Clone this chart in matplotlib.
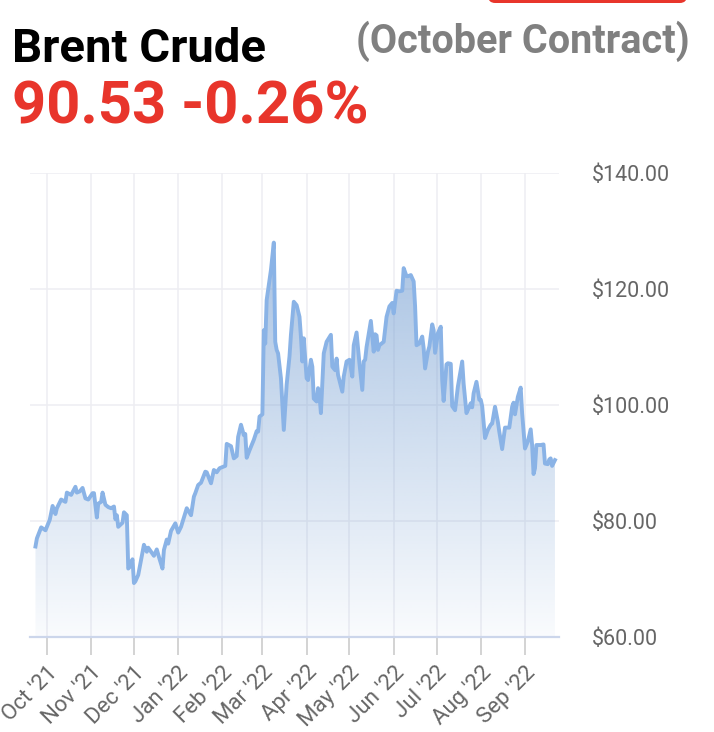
import numpy as np
import pandas as pd
import matplotlib
matplotlib.use("Agg")
import matplotlib.pyplot as plt
import matplotlib.dates as mdates
from matplotlib.patches import PathPatch, FancyBboxPatch

plt.rcParams['font.family'] = ['Roboto', 'DejaVu Sans']

# data (Brent, Oct contract)
dates = [
    "2021-09-23", "2021-09-24", "2021-09-27", "2021-09-30", "2021-10-01", "2021-10-03",
    "2021-10-05", "2021-10-07", "2021-10-08", "2021-10-11", "2021-10-14", "2021-10-15",
    "2021-10-18", "2021-10-21", "2021-10-22", "2021-10-24", "2021-10-26", "2021-10-28",
    "2021-10-30", "2021-11-02", "2021-11-03", "2021-11-05", "2021-11-06", "2021-11-08",
    "2021-11-09", "2021-11-11", "2021-11-13", "2021-11-15", "2021-11-17", "2021-11-18",
    "2021-11-19", "2021-11-20", "2021-11-23", "2021-11-24", "2021-11-26", "2021-11-27",
    "2021-11-28", "2021-11-30", "2021-12-01", "2021-12-02", "2021-12-04", "2021-12-06",
    "2021-12-08", "2021-12-10", "2021-12-11", "2021-12-13", "2021-12-15", "2021-12-17",
    "2021-12-19", "2021-12-21", "2021-12-22", "2021-12-24", "2021-12-25", "2021-12-27",
    "2021-12-30", "2022-01-01", "2022-01-03", "2022-01-07", "2022-01-10", "2022-01-12",
    "2022-01-13", "2022-01-15", "2022-01-17", "2022-01-20", "2022-01-21", "2022-01-24",
    "2022-01-26", "2022-01-28", "2022-01-30", "2022-02-01", "2022-02-03", "2022-02-04",
    "2022-02-07", "2022-02-09", "2022-02-11", "2022-02-12", "2022-02-14", "2022-02-16",
    "2022-02-17", "2022-02-18", "2022-02-20", "2022-02-23", "2022-02-25", "2022-02-26",
    "2022-02-27", "2022-03-01", "2022-03-02", "2022-03-03", "2022-03-04", "2022-03-07",
    "2022-03-09", "2022-03-10", "2022-03-11", "2022-03-12", "2022-03-14", "2022-03-16",
    "2022-03-18", "2022-03-20", "2022-03-21", "2022-03-23", "2022-03-25", "2022-03-27",
    "2022-03-28", "2022-03-29", "2022-03-30", "2022-04-01", "2022-04-02", "2022-04-04",
    "2022-04-05", "2022-04-06", "2022-04-08", "2022-04-09", "2022-04-10", "2022-04-11",
    "2022-04-13", "2022-04-15", "2022-04-18", "2022-04-19", "2022-04-21", "2022-04-22",
    "2022-04-23", "2022-04-26", "2022-04-27", "2022-04-29", "2022-05-01", "2022-05-03",
    "2022-05-04", "2022-05-06", "2022-05-08", "2022-05-10", "2022-05-11", "2022-05-12",
    "2022-05-13", "2022-05-16", "2022-05-18", "2022-05-19", "2022-05-20", "2022-05-21",
    "2022-05-22", "2022-05-24", "2022-05-25", "2022-05-27", "2022-05-29", "2022-05-31",
    "2022-06-01", "2022-06-03", "2022-06-05", "2022-06-07", "2022-06-08", "2022-06-10",
    "2022-06-11", "2022-06-13", "2022-06-15", "2022-06-16", "2022-06-17", "2022-06-19",
    "2022-06-21", "2022-06-22", "2022-06-23", "2022-06-25", "2022-06-26", "2022-06-28",
    "2022-06-29", "2022-06-30", "2022-07-02", "2022-07-04", "2022-07-05", "2022-07-06",
    "2022-07-08", "2022-07-09", "2022-07-11", "2022-07-12", "2022-07-14", "2022-07-16",
    "2022-07-19", "2022-07-20", "2022-07-22", "2022-07-24", "2022-07-25", "2022-07-26",
    "2022-07-27", "2022-07-29", "2022-07-31", "2022-08-01", "2022-08-02", "2022-08-04",
    "2022-08-06", "2022-08-08", "2022-08-09", "2022-08-11", "2022-08-13", "2022-08-14",
    "2022-08-16", "2022-08-18", "2022-08-19", "2022-08-21", "2022-08-23", "2022-08-24",
    "2022-08-25", "2022-08-27", "2022-08-29", "2022-08-30", "2022-09-01", "2022-09-03",
    "2022-09-05", "2022-09-06", "2022-09-07", "2022-09-08", "2022-09-09", "2022-09-12",
    "2022-09-14", "2022-09-15", "2022-09-17", "2022-09-18", "2022-09-19", "2022-09-20",
    "2022-09-22",
]
prices = [
    75.6, 77.0, 78.9, 78.4, 79.0, 80.2,
    82.6, 81.2, 82.2, 83.7, 83.3, 84.9,
    84.5, 85.9, 84.9, 85.1, 85.7, 83.9,
    83.7, 84.8, 84.8, 80.6, 83.0, 83.3,
    84.9, 82.8, 82.4, 82.2, 82.5, 80.3,
    81.0, 79.0, 79.7, 81.5, 81.0, 71.8,
    72.1, 73.4, 69.3, 69.6, 70.7, 73.3,
    75.9, 74.7, 75.4, 74.7, 74.0, 75.1,
    73.4, 71.8, 75.0, 76.8, 76.1, 78.3,
    79.6, 78.0, 79.0, 82.2, 81.0, 84.2,
    84.8, 86.2, 86.6, 88.5, 88.4, 86.5,
    88.8, 88.4, 89.1, 89.3, 89.5, 93.3,
    92.9, 90.8, 91.2, 94.5, 96.6, 94.8,
    95.0, 90.9, 92.2, 94.0, 95.5, 95.4,
    98.0, 98.4, 112.9, 110.6, 118.1, 123.3,
    128.0, 110.9, 109.5, 108.9, 104.6, 95.7,
    103.5, 108.4, 112.1, 117.8, 117.2, 115.2,
    111.8, 107.5, 111.5, 104.6, 104.3, 107.8,
    106.6, 101.1, 100.6, 102.9, 101.7, 98.6,
    108.9, 110.9, 112.1, 106.6, 106.0, 108.0,
    105.2, 102.3, 104.9, 107.5, 107.8, 104.9,
    110.3, 112.5, 107.2, 102.6, 107.5, 107.8,
    110.0, 114.5, 109.2, 112.2, 112.0, 109.5,
    110.3, 110.7, 110.9, 115.2, 117.0, 117.6,
    115.8, 119.7, 119.6, 119.7, 123.6, 122.2,
    122.2, 122.4, 121.3, 117.0, 110.3, 110.6,
    111.8, 109.8, 106.3, 109.2, 110.1, 113.9,
    112.9, 109.0, 112.4, 113.5, 104.3, 100.7,
    107.0, 107.2, 107.1, 99.8, 99.1, 103.2,
    107.5, 103.7, 98.6, 99.7, 100.3, 99.6,
    102.0, 104.0, 100.9, 100.9, 99.8, 94.3,
    95.7, 96.6, 96.8, 99.7, 97.1, 95.4,
    92.4, 96.1, 96.1, 96.1, 99.7, 100.4,
    98.4, 101.4, 103.0, 98.6, 92.5, 93.7,
    95.8, 93.1, 88.1, 89.1, 93.1, 93.1,
    93.2, 89.9, 89.8, 90.6, 90.8, 89.5,
    90.5,
]
month_ticks = pd.date_range("2021-10-01", "2022-09-01", freq="MS")
y_ticks = [60, 80, 100, 120, 140]

x = pd.to_datetime(dates)
y = np.array(prices)

fig = plt.figure(figsize=(7.14, 7.32), dpi=100)
ax = fig.add_axes([30 / 714, 1 - 637 / 732, 529 / 714, 464 / 732])

ax.set_xlim(pd.Timestamp("2021-09-19 04:00"), pd.Timestamp("2022-09-24 20:00"))
ax.set_ylim(60, 140)

# gradient fill under the line
fill = ax.fill_between(x, y, 60, facecolor="none", edgecolor="none")
clip = PathPatch(fill.get_paths()[0], transform=ax.transData,
                 facecolor="none", edgecolor="none")
ax.add_patch(clip)
n = 256
grad = np.zeros((n, 1, 4))
grad[:, 0, 0] = 116 / 255
grad[:, 0, 1] = 158 / 255
grad[:, 0, 2] = 210 / 255
grad[:, 0, 3] = np.linspace(0.04, 0.62, n)
x0 = mdates.date2num(x[0])
x1 = mdates.date2num(x[-1])
im = ax.imshow(grad, extent=[x0, x1, 60, y.max()], origin="lower",
               aspect="auto", zorder=2, interpolation="bilinear")
im.set_clip_path(clip)

ax.plot(x, y, color="#8ab3e6", lw=2.8, solid_joinstyle="round", zorder=3)

# grid and axes
ax.set_xticks(month_ticks)
ax.set_xticklabels([d.strftime("%b '%y") for d in month_ticks],
                   rotation=45, ha="right", rotation_mode="anchor",
                   fontsize=16, color="#666666")
ax.set_yticks(y_ticks)
ax.set_yticklabels(["$%.2f" % v for v in y_ticks], fontsize=15.5, color="#666666")
ax.yaxis.tick_right()
ax.tick_params(axis="y", length=0, pad=23.5)
ax.tick_params(axis="x", length=13, width=1.1, color="#c8c8c8", pad=5)
ax.grid(True, color="#eeeef2", lw=1.1, zorder=0)
ax.set_axisbelow(True)
for s in ["top", "left", "right"]:
    ax.spines[s].set_visible(False)
ax.spines["bottom"].set_color("#ccd6eb")
ax.spines["bottom"].set_linewidth(1.6)
ax.spines["bottom"].set_zorder(4)

# header
fig.text(12 / 714, 1 - 62 / 732, "Brent Crude", fontsize=34, fontweight="bold",
         color="black", va="baseline", ha="left")
fig.text(690 / 714, 1 - 53 / 732, "(October Contract)", fontsize=28.5,
         fontweight="bold", color="#808080", va="baseline", ha="right")
fig.text(12 / 714, 1 - 124 / 732, "90.53 -0.26%", fontsize=43, fontweight="bold",
         color="#e8352b", va="baseline", ha="left")

# edge of a red button at the top
btn = FancyBboxPatch((488 / 714, 1 - 3 / 732), 199 / 714, 30 / 732,
                     boxstyle="round,pad=0,rounding_size=0.01",
                     transform=fig.transFigure, facecolor="#e8352b",
                     edgecolor="none", clip_on=False)
fig.patches.append(btn)

fig.savefig("out.png", dpi=100)
